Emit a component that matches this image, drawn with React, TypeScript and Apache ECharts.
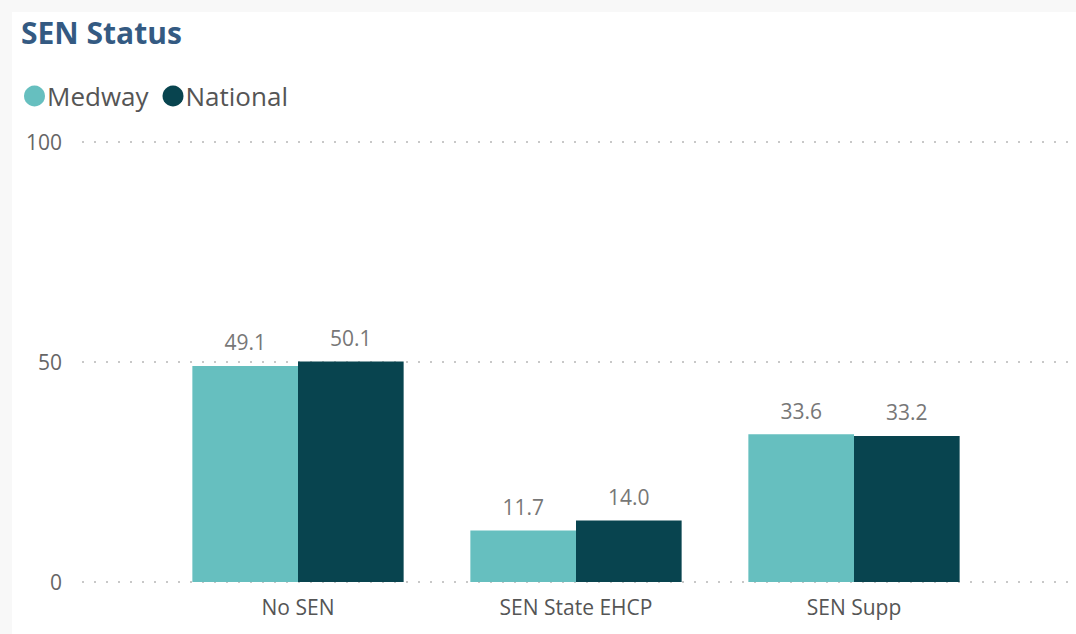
import React, { useEffect, useRef } from "react";
import * as echarts from "echarts";

const categories = ["No SEN", "SEN State EHCP", "SEN Supp"];
const medway = [49.1, 11.7, 33.6];
const national = [50.1, 14.0, 33.2];
const yTicks = [0, 50, 100];

const FONT = "'Open Sans', 'Noto Sans', sans-serif";

export default function App() {
  const ref = useRef<HTMLDivElement>(null);
  useEffect(() => {
    const chart = echarts.init(ref.current!, null, { renderer: "svg" });
    const option: any = {
      animation: false,
      backgroundColor: "#F8F8F8",
      textStyle: { fontFamily: FONT },
      graphic: [
        {
          type: "rect",
          left: 12,
          top: 12,
          shape: { width: 1064, height: 622 },
          style: { fill: "#FFFFFF" },
          z: -10,
          silent: true,
        },
      ],
      title: {
        text: "SEN Status",
        left: 16,
        top: 12,
        textStyle: { fontFamily: FONT, fontSize: 30, fontWeight: "bold", color: "#345A82" },
      },
      legend: {
        left: 19,
        top: 78,
        icon: "circle",
        itemWidth: 21,
        itemHeight: 21,
        itemGap: 14,
        textStyle: { fontFamily: FONT, fontSize: 26, color: "#555555", padding: [0, 0, 0, -3] },
        data: ["Medway", "National"],
      },
      grid: [
        { left: 82, right: 0, top: 142, bottom: 52 },
        { left: 159, right: 83, top: 142, bottom: 52 },
      ],
      xAxis: [
        { type: "category", gridIndex: 0, data: categories, show: false },
        {
          type: "category",
          gridIndex: 1,
          data: categories,
          axisLine: { show: false },
          axisTick: { show: false },
          axisLabel: { fontFamily: FONT, fontSize: 21, color: "#555555", margin: 14 },
        },
      ],
      yAxis: [
        {
          type: "value",
          gridIndex: 0,
          min: 0,
          max: 100,
          interval: 50,
          axisLine: { show: false },
          axisTick: { show: false },
          axisLabel: {
            fontFamily: FONT,
            fontSize: 21,
            color: "#666666",
            margin: 20,
            formatter: (v: number) => (yTicks.includes(v) ? String(v) : ""),
          },
          splitLine: { lineStyle: { color: "#C8C8C8", type: [2, 10], width: 2 } },
        },
        { type: "value", gridIndex: 1, min: 0, max: 100, interval: 50, show: false, splitLine: { show: false } },
      ],
      series: [
        {
          name: "Medway",
          type: "bar",
          xAxisIndex: 1,
          yAxisIndex: 1,
          data: medway,
          barGap: "0%",
          barCategoryGap: "24%",
          itemStyle: { color: "#66BFBF" },
          label: {
            show: true,
            position: "top",
            distance: 13,
            fontFamily: FONT,
            fontSize: 21,
            color: "#777777",
            formatter: (p: any) => Number(p.value).toFixed(1),
          },
        },
        {
          name: "National",
          type: "bar",
          xAxisIndex: 1,
          yAxisIndex: 1,
          data: national,
          barGap: "0%",
          barCategoryGap: "24%",
          itemStyle: { color: "#08444F" },
          label: {
            show: true,
            position: "top",
            distance: 13,
            fontFamily: FONT,
            fontSize: 21,
            color: "#777777",
            formatter: (p: any) => Number(p.value).toFixed(1),
          },
        },
      ],
    };
    chart.setOption(option);
    return () => chart.dispose();
  }, []);
  return (
    <div
      ref={ref}
      style={{ position: "fixed", left: 0, top: 0, width: 1076, height: 634 }}
    />
  );
}
